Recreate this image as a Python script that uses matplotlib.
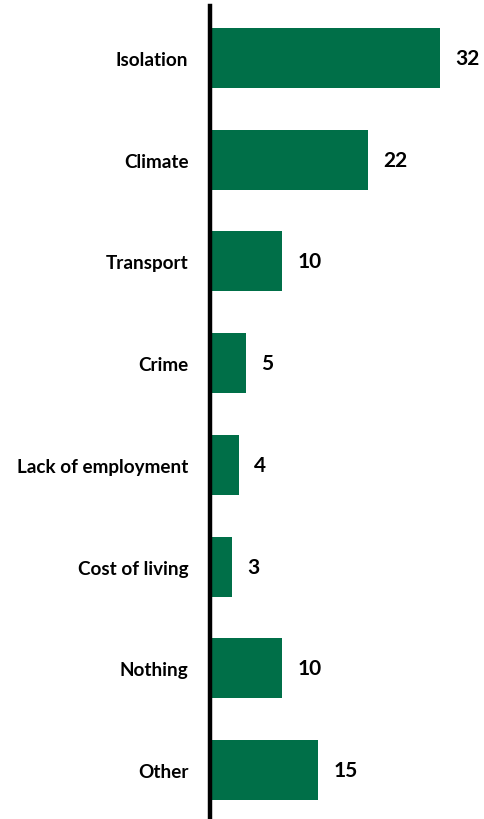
import matplotlib
matplotlib.use("Agg")
from matplotlib import pyplot as plt

categories = ["Isolation", "Climate", "Transport", "Crime",
              "Lack of employment", "Cost of living", "Nothing", "Other"]
values = [32, 22, 10, 5, 4, 3, 10, 15]

green = "#006F48"

fig = plt.figure(figsize=(4.84, 8.2), dpi=100)
ax = fig.add_axes([210 / 484, 0, 1 - 210 / 484, 1 - 7 / 820])

ypos = list(range(len(categories)))
bars = ax.barh(ypos, values, height=0.59, color=green)

ax.set_xlim(0, 38.1)
ax.set_ylim(7.48, -0.51)

ax.set_yticks(ypos)
ax.set_yticklabels(categories, fontfamily="Lato", fontweight="bold", fontsize=13.6)
ax.tick_params(axis="y", length=0, pad=15.5)
ax.set_xticks([])

for s in ["top", "right", "bottom"]:
    ax.spines[s].set_visible(False)
ax.spines["left"].set_linewidth(3.2)
ax.spines["left"].set_color("black")

for b, v in zip(bars, values):
    ax.annotate(str(v), (b.get_width(), b.get_y() + b.get_height() / 2),
                xytext=(11, 0), textcoords="offset points",
                ha="left", va="center", fontfamily="Lato",
                fontweight="bold", fontsize=15)

fig.savefig("out.png", dpi=100)
